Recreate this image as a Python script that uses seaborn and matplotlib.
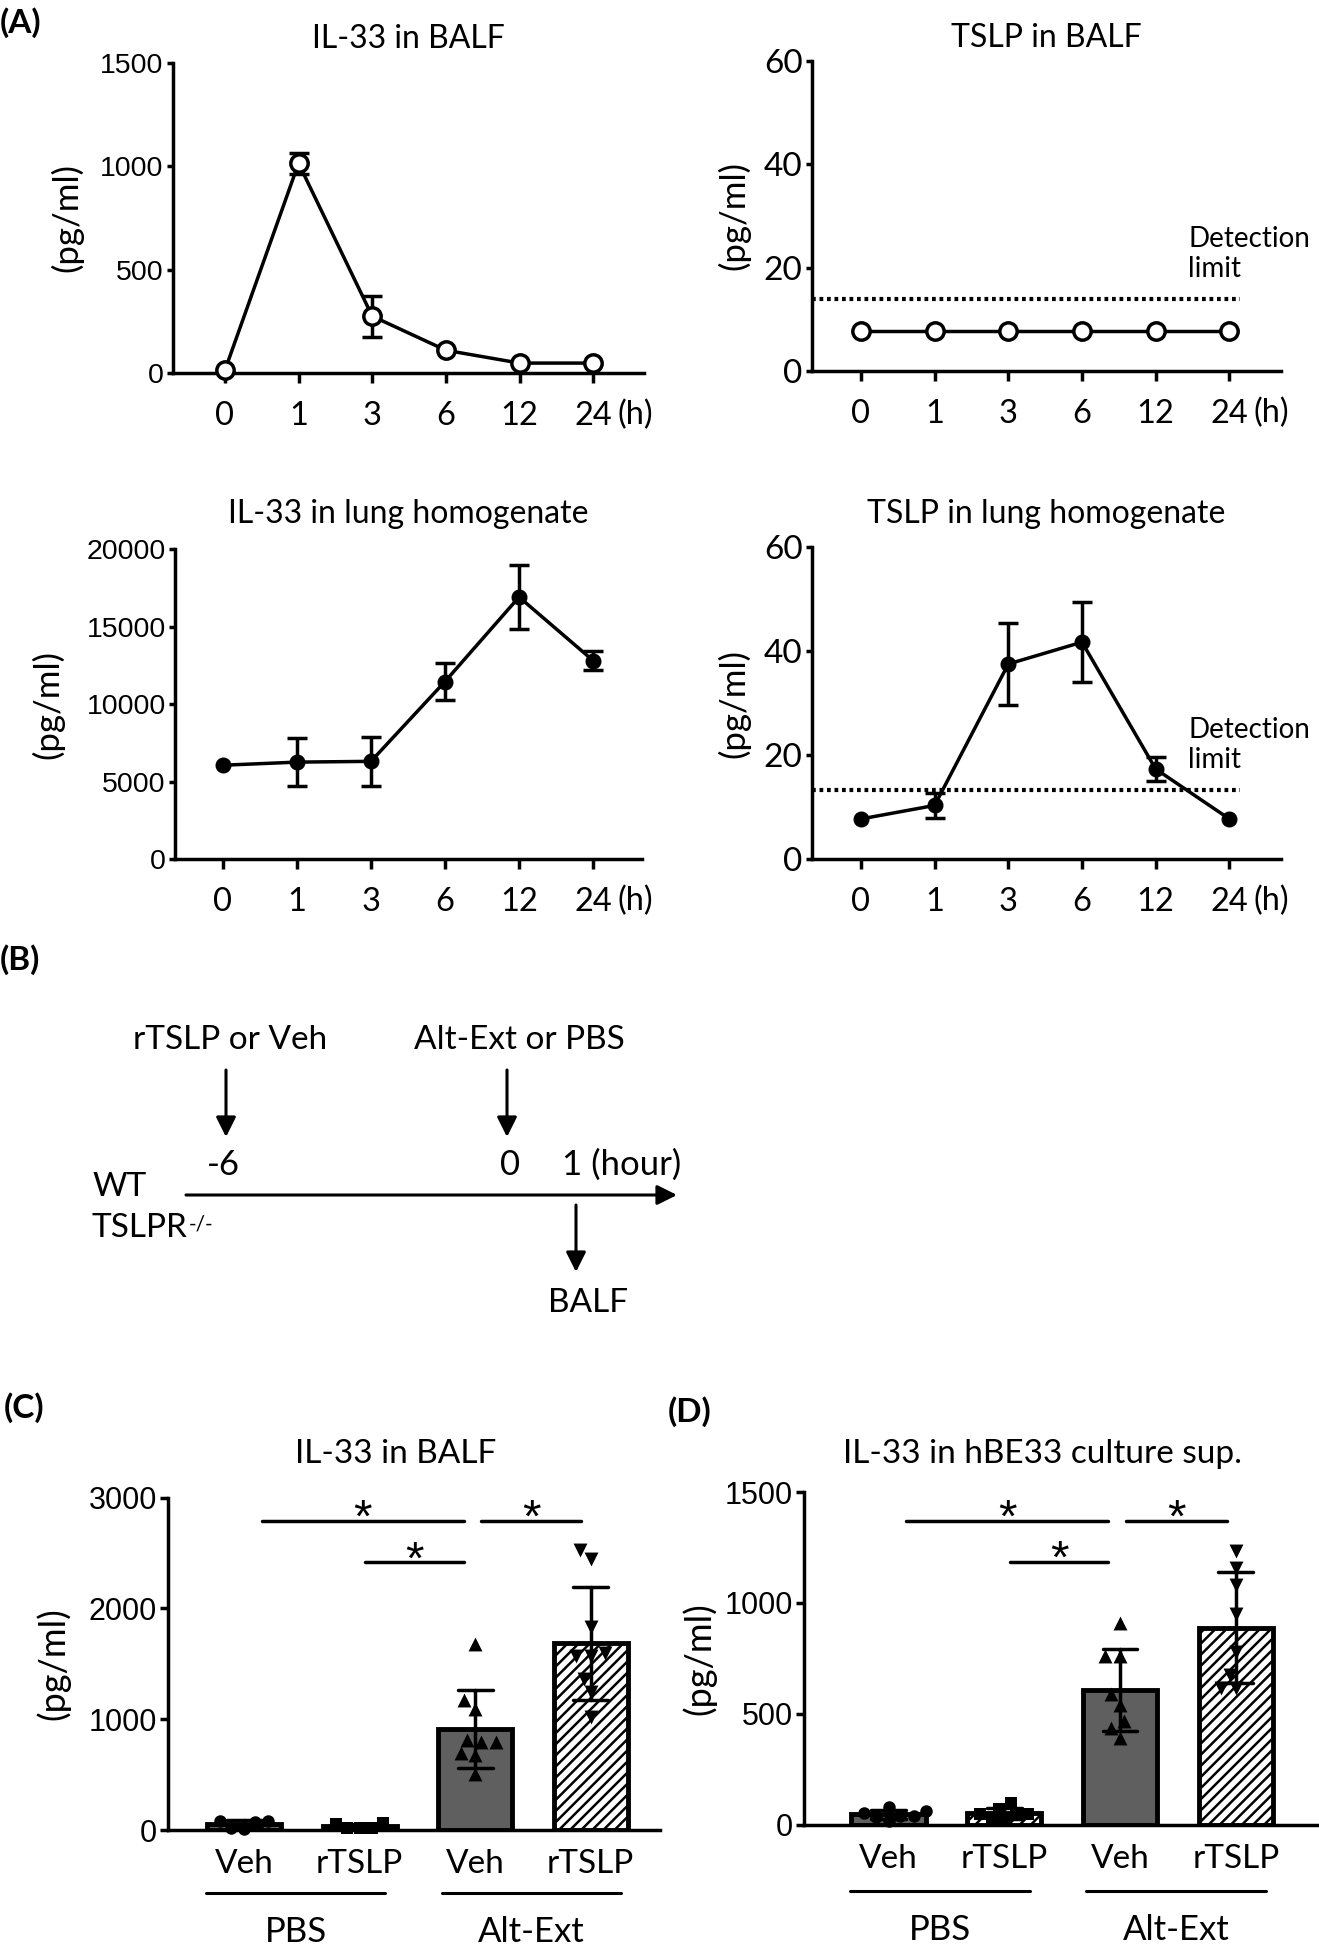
import matplotlib
matplotlib.use("Agg")
import matplotlib.pyplot as plt
import numpy as np
import pandas as pd
import seaborn as sns


# values
time_labels = ["0", "1", "3", "6", "12", "24"]

il33_balf_mean = [13, 1015, 275, 110, 48, 48]
il33_balf_sd = [0, 50, 100, 0, 0, 0]

tslp_balf_mean = [7.8, 7.8, 7.8, 7.8, 7.8, 7.8]
tslp_balf_sd = [0, 0, 0, 0, 0, 0]
tslp_balf_limit = 14.0

il33_lung_mean = [6050, 6250, 6300, 11450, 16900, 12800]
il33_lung_sd = [0, 1530, 1600, 1200, 2040, 620]

tslp_lung_mean = [7.7, 10.3, 37.5, 41.7, 17.3, 7.7]
tslp_lung_sd = [0, 2.4, 7.8, 7.7, 2.3, 0]
tslp_lung_limit = 13.2

group_keys = ["PBS_Veh", "PBS_rTSLP", "Alt_Veh", "Alt_rTSLP"]
group_ticks = ["Veh", "rTSLP", "Veh", "rTSLP"]
challenge_labels = ["PBS", "Alt-Ext"]

balf_pbs_veh = [10, 85, 70, 80, 15]
balf_pbs_rtslp = [15, 65, 15, 55, 15]
balf_alt_veh = [1682, 1094, 1170, 676, 790, 816, 790, 695, 505]
balf_alt_rtslp = [2442, 2525, 1834, 1600, 1568, 1568, 1359, 1246, 1018]

hbe_pbs_veh = [32, 61, 38, 53, 80, 15, 38]
hbe_pbs_rtslp = [95, 72, 47, 42, 23, 47, 28]
hbe_alt_veh = [911, 759, 759, 589, 541, 465, 437, 389]
hbe_alt_rtslp = [1234, 1158, 1082, 949, 778, 674, 617, 617]


sns.set_style("ticks", {"axes.edgecolor": "black", "xtick.color": "black",
                        "ytick.color": "black", "text.color": "black"})
plt.rcParams["font.family"] = ["Lato", "DejaVu Sans"]
plt.rcParams["axes.linewidth"] = 2.5
plt.rcParams["hatch.linewidth"] = 1.8
plt.rcParams["hatch.color"] = "black"

ARIAL = ["Liberation Sans", "DejaVu Sans"]
LATO = ["Lato", "DejaVu Sans"]
W, H = 1319, 1950

fig = plt.figure(figsize=(W / 100, H / 100), dpi=100)


def px_rect(left, top, right, bottom):
    return [left / W, 1 - bottom / H, (right - left) / W, (bottom - top) / H]


def time_course(ax, mean, sd, ymax, step, title, title_y, xlim, filled,
                ytick_family, ytick_size, ylab_x, limit=None, limit_text_y=None):
    df = pd.DataFrame({"pos": range(len(time_labels)), "mean": mean, "sd": sd})
    err = df[df["sd"] > 0]
    ax.errorbar(err["pos"], err["mean"], yerr=err["sd"], fmt="none", ecolor="black",
                elinewidth=2.5, capsize=7, capthick=2.5, zorder=2)
    sns.lineplot(data=df, x="pos", y="mean", ax=ax, color="black", linewidth=2.5,
                 marker="o", markersize=9 if filled else 12.5,
                 markerfacecolor="black" if filled else "white",
                 markeredgecolor="black", markeredgewidth=2.5,
                 errorbar=None, zorder=3, clip_on=False)
    if limit is not None:
        ax.plot([xlim[0], 5.14], [limit, limit], color="black",
                linestyle=(0, (0.9, 0.9)), linewidth=3)
        ax.text(4.44, limit_text_y, "Detection\nlimit", ha="left", va="center",
                fontsize=20, linespacing=1.2)

    ax.set_xlim(*xlim)
    ax.set_ylim(0, ymax)
    ax.set_xticks(range(len(time_labels)), time_labels)
    ax.tick_params(axis="x", length=7, width=2.5, pad=13, labelsize=23.5)
    yt = np.arange(0, ymax + 1, step)
    ax.set_yticks(yt, [f"{v:g}" for v in yt], fontfamily=ytick_family, fontsize=ytick_size)
    ax.tick_params(axis="y", length=4.5, width=2.5, pad=2)
    ax.set_xlabel("")
    ax.set_ylabel("")
    ax.text(5.57, -0.135, "(h)", transform=ax.get_xaxis_transform(), ha="center",
            va="center", fontsize=23.5)
    ax.text(ylab_x, 0.5, "(pg/ml)", transform=ax.transAxes, rotation=90,
            ha="center", va="center", fontsize=25)
    ax.text(0.5, title_y, title, transform=ax.transAxes, ha="center",
            va="baseline", fontsize=23)
    sns.despine(ax=ax)


def bar_panel(ax, values, ymax, step, title, title_x, title_y, xlim, ylab_x,
              sig_hi, sig_lo, line_y, label_y):
    df = pd.DataFrame({"group": np.repeat(group_keys, [len(v) for v in values]),
                       "value": np.concatenate(values)})
    fills = {"PBS_Veh": "#5f5f5f", "PBS_rTSLP": "white",
             "Alt_Veh": "#5f5f5f", "Alt_rTSLP": "white"}
    sns.barplot(data=df, x="group", y="value", order=group_keys, hue="group",
                hue_order=group_keys, palette=fills, legend=False, errorbar="sd",
                capsize=0.3, width=0.64, err_kws={"color": "black", "linewidth": 2.5},
                ax=ax, zorder=2)
    for patch, hatch in zip(ax.patches, ["", "///", "", "///"]):
        patch.set_edgecolor("black")
        patch.set_linewidth(3.5)
        patch.set_hatch(hatch)

    for key, marker, size in zip(group_keys, ["o", "s", "^", "v"], [9, 8.5, 10, 10]):
        sns.swarmplot(data=df[df["group"] == key], x="group", y="value",
                      order=group_keys, marker=marker, color="black", size=size,
                      ax=ax, zorder=3)
    for coll in ax.collections:
        coll.set_clip_on(False)

    ax.set_xlim(*xlim)
    ax.set_ylim(0, ymax)
    ax.set_xticks(range(4), group_ticks)
    ax.tick_params(axis="x", length=0, pad=14, labelsize=24)
    yt = np.arange(0, ymax + 1, step)
    ax.set_yticks(yt, [f"{v:g}" for v in yt], fontfamily=ARIAL, fontsize=22)
    ax.tick_params(axis="y", length=6, width=2.5, pad=2)
    ax.set_xlabel("")
    ax.set_ylabel("")

    # significance brackets
    for x0, x1, y in [(0.15, 1.9, sig_hi), (1.05, 1.9, sig_lo), (2.05, 2.92, sig_hi)]:
        ax.plot([x0, x1], [y, y], color="black", lw=2.5, clip_on=False)
        ax.annotate("*", xy=((x0 + x1) / 2, y), xytext=(0, -8), textcoords="offset points",
                    ha="center", va="baseline", fontsize=34, family=ARIAL)

    # group brackets under the tick labels
    trans = ax.get_xaxis_transform()
    for (x0, x1), name in zip([(-0.33, 1.22), (1.71, 3.26)], challenge_labels):
        ax.plot([x0, x1], [line_y, line_y], transform=trans, color="black", lw=2.2,
                clip_on=False)
        ax.text((x0 + x1) / 2, label_y, name, transform=trans, ha="center",
                va="center", fontsize=25)

    ax.text(ylab_x, 0.5, "(pg/ml)", transform=ax.transAxes, rotation=90,
            ha="center", va="center", fontsize=26)
    ax.text(title_x, title_y, title, transform=ax.transAxes, ha="center",
            va="baseline", fontsize=24)
    sns.despine(ax=ax)


# overlay in pixel coordinates for panel letters and the schematic
ov = fig.add_axes([0, 0, 1, 1])
ov.set_xlim(0, W)
ov.set_ylim(H, 0)
ov.axis("off")

for txt, x, y in [("(A)", 0, 23), ("(B)", 0, 960), ("(C)", 4, 1408), ("(D)", 668, 1412)]:
    ov.text(x, y, txt, ha="left", va="center", fontsize=24, fontweight="bold")

arrow = dict(arrowstyle="-|>,head_length=0.4,head_width=0.2", mutation_scale=30,
             lw=2.2, color="black", shrinkA=0, shrinkB=0)
ov.text(230, 1040, "rTSLP or Veh", ha="center", va="center", fontsize=24)
ov.text(519, 1040, "Alt-Ext or PBS", ha="center", va="center", fontsize=24)
ov.annotate("", xy=(226, 1137), xytext=(226, 1070), arrowprops=arrow)
ov.annotate("", xy=(507, 1137), xytext=(507, 1070), arrowprops=arrow)
ov.text(223, 1165, "-6", ha="center", va="center", fontsize=25)
ov.text(510, 1165, "0", ha="center", va="center", fontsize=25)
ov.text(562, 1165, "1 (hour)", ha="left", va="center", fontsize=25)
ov.annotate("", xy=(677, 1195), xytext=(186, 1195), arrowprops=arrow)
ov.text(92, 1187, "WT", ha="left", va="center", fontsize=24)
ko = ov.text(92, 1228, "TSLPR", ha="left", va="center", fontsize=24)
ov.annotate("-/-", xy=(1, 1), xycoords=ko, xytext=(0.5, -1), textcoords="offset points",
            ha="left", va="top", fontsize=15)
ov.annotate("", xy=(576, 1272), xytext=(576, 1205), arrowprops=arrow)
ov.text(588, 1303, "BALF", ha="center", va="center", fontsize=24)

ax1 = fig.add_axes(px_rect(172.6, 63, 644, 373))
time_course(ax1, il33_balf_mean, il33_balf_sd, 1500, 500, "IL-33 in BALF", 1.048,
            (-0.71, 5.69), False, ARIAL, 20.5, -0.225)

ax2 = fig.add_axes(px_rect(811.5, 61, 1281, 371))
time_course(ax2, tslp_balf_mean, tslp_balf_sd, 60, 20, "TSLP in BALF", 1.045,
            (-0.67, 5.7), False, LATO, 24, -0.165,
            limit=tslp_balf_limit, limit_text_y=22.7)

ax3 = fig.add_axes(px_rect(174.7, 549, 642, 859))
time_course(ax3, il33_lung_mean, il33_lung_sd, 20000, 5000, "IL-33 in lung homogenate",
            1.084, (-0.65, 5.66), True, ARIAL, 20.5, -0.271)

ax4 = fig.add_axes(px_rect(811.5, 547, 1281, 859))
time_course(ax4, tslp_lung_mean, tslp_lung_sd, 60, 20, "TSLP in lung homogenate",
            1.077, (-0.67, 5.7), True, LATO, 24, -0.165,
            limit=tslp_lung_limit, limit_text_y=22.0)

ax5 = fig.add_axes(px_rect(168, 1497.5, 660, 1830))
bar_panel(ax5, [balf_pbs_veh, balf_pbs_rtslp, balf_alt_veh, balf_alt_rtslp],
          3000, 1000, "IL-33 in BALF", 0.463, 1.105, (-0.66, 3.6), -0.234,
          2790, 2415, -0.19, -0.307)

ax6 = fig.add_axes(px_rect(804, 1492, 1318, 1824.5))
bar_panel(ax6, [hbe_pbs_veh, hbe_pbs_rtslp, hbe_alt_veh, hbe_alt_rtslp],
          1500, 500, "IL-33 in hBE33 culture sup.", 0.464, 1.088, (-0.73, 3.71), -0.205,
          1370, 1185, -0.2, -0.317)

fig.savefig("out.png", dpi=100)
